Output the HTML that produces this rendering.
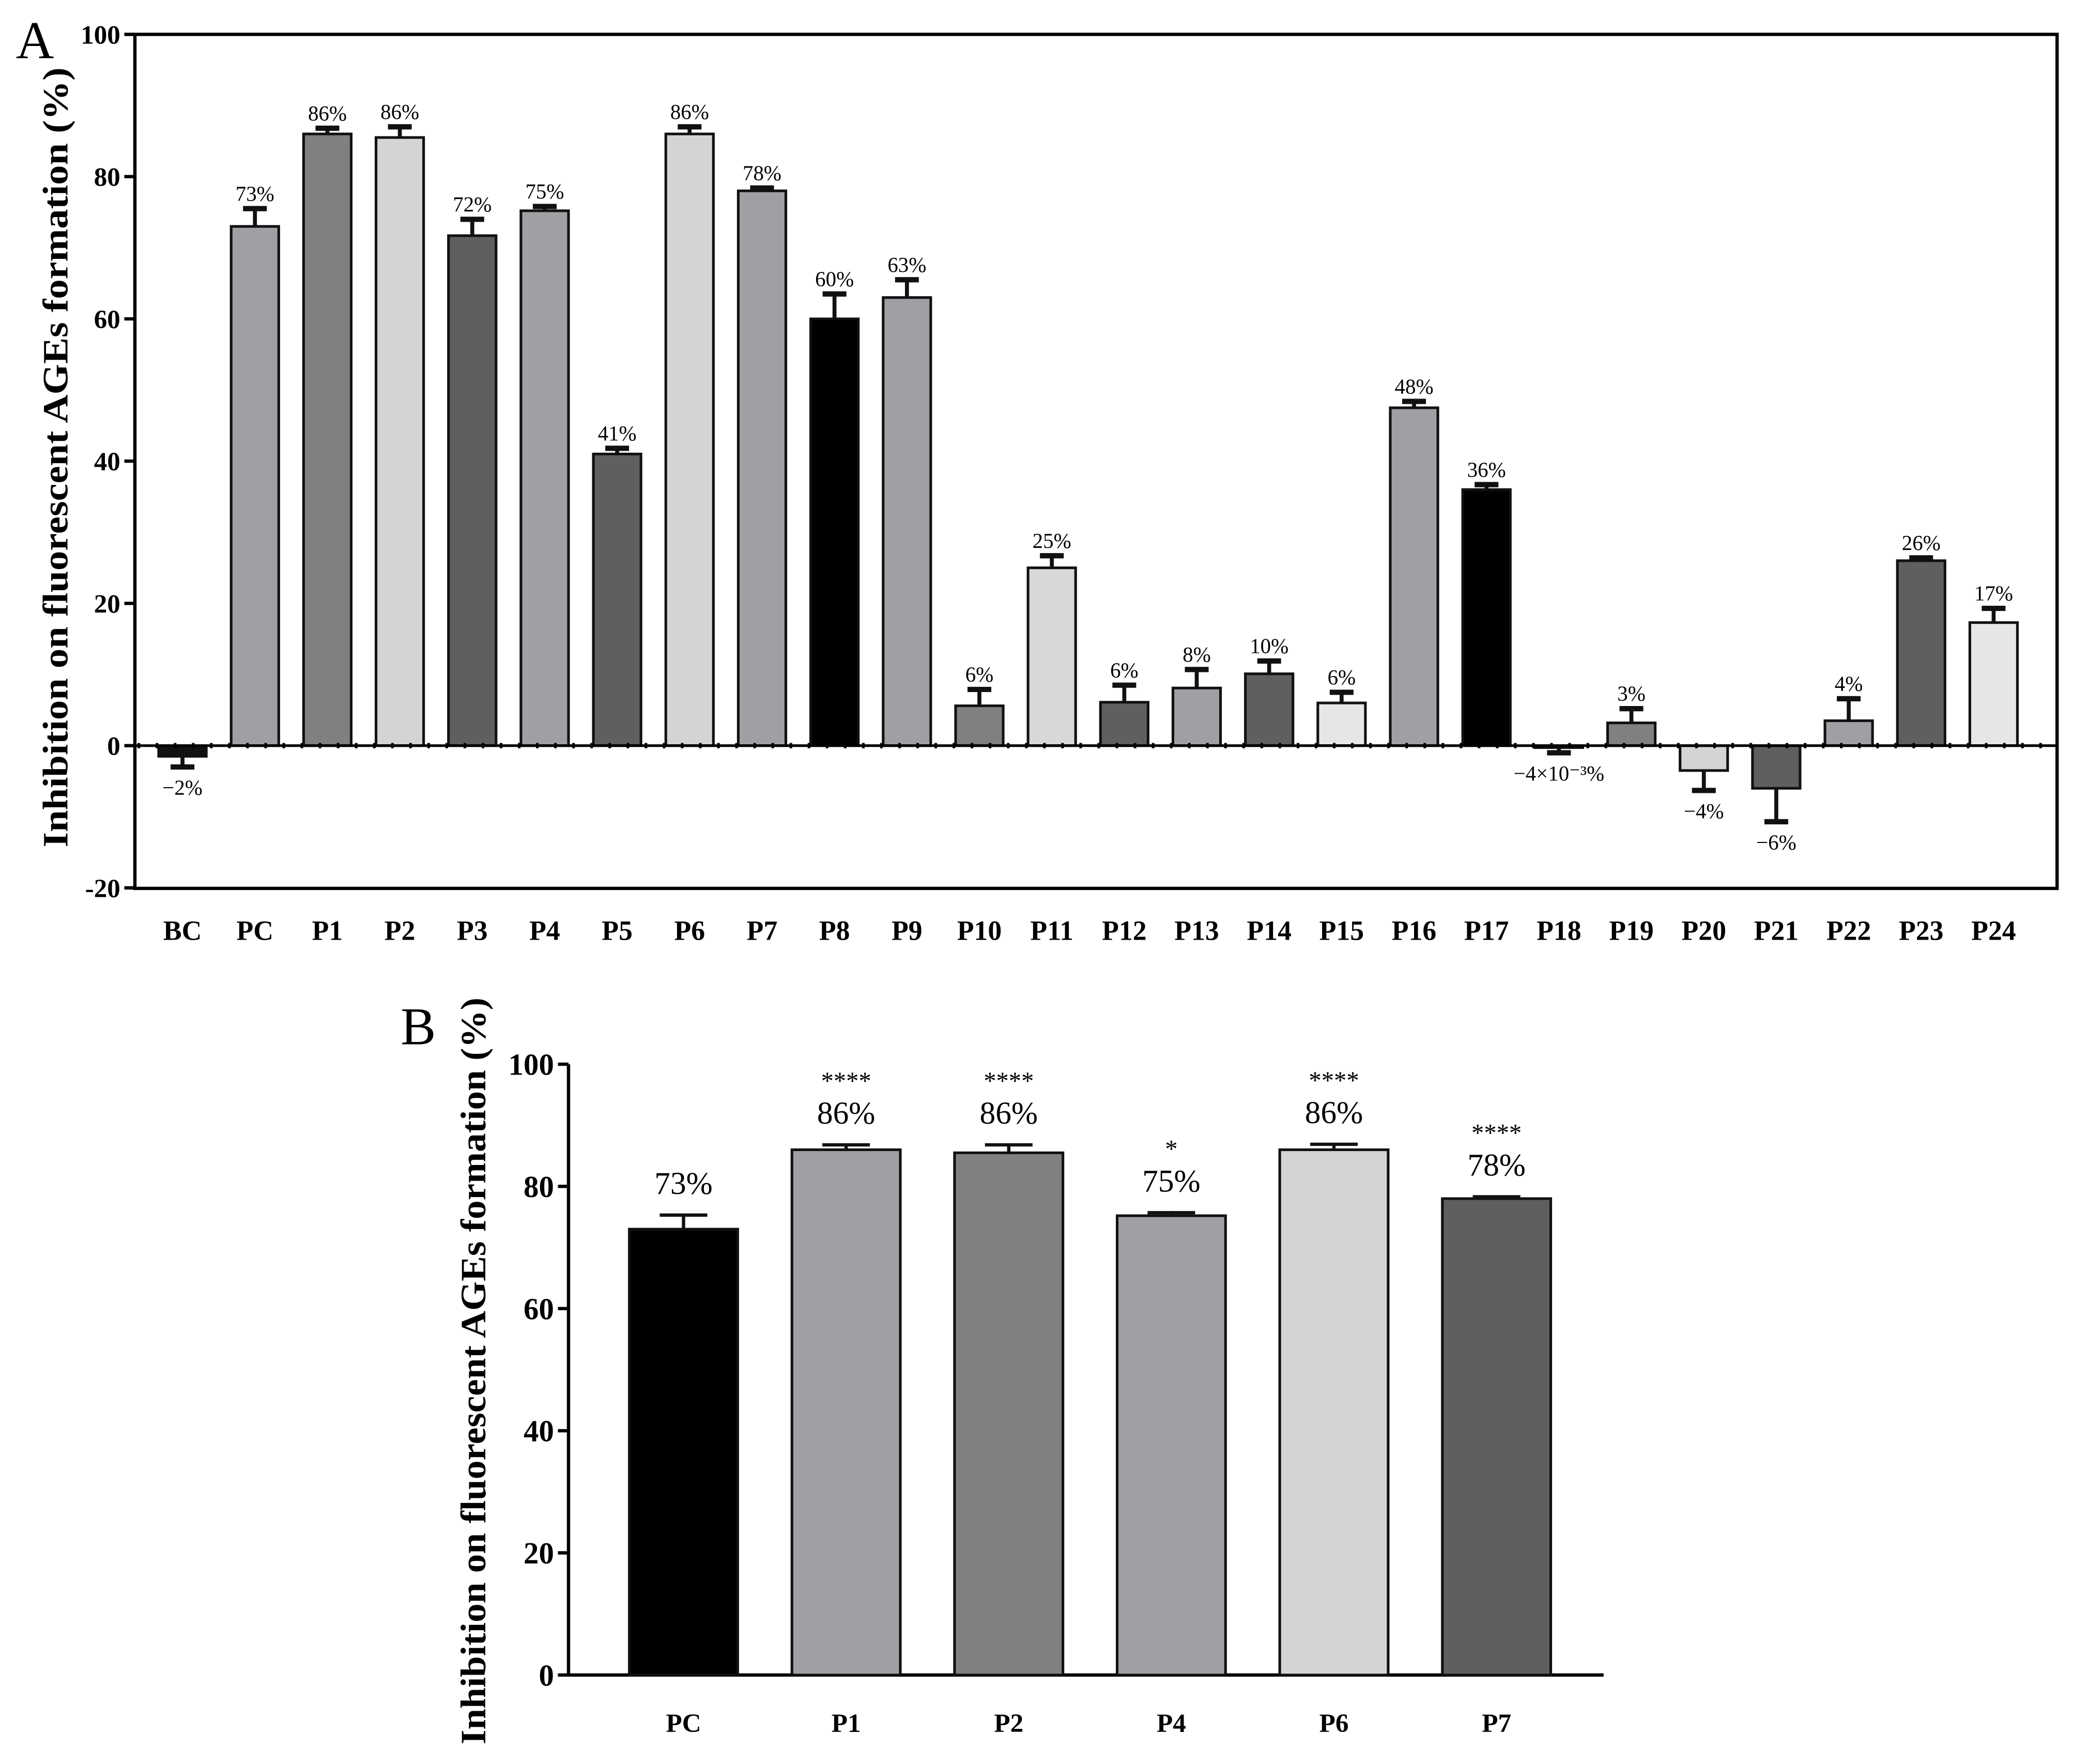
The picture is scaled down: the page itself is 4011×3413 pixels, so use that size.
<!DOCTYPE html>
<html><head><meta charset="utf-8"><style>
html,body{margin:0;padding:0;background:#fff;}
svg{display:block;}
text{font-family:"Liberation Serif",serif;}
</style></head><body>
<svg id="fig" width="4011" height="3413" viewBox="0 0 1568 1334.3" xmlns="http://www.w3.org/2000/svg">
<g id="panelA"></g>
<g id="panelB"></g>
</svg>
<script>
const catsA=["BC","PC","P1","P2","P3","P4","P5","P6","P7","P8","P9","P10","P11","P12","P13","P14","P15","P16","P17","P18","P19","P20","P21","P22","P23","P24"];
const valsA=[-1.5,73,86,85.5,71.7,75.2,41,86,78,60,63,5.6,25,6.1,8.1,10.1,6,47.5,36,-0.004,3.2,-3.5,-6,3.5,26,17.3];
const errsA=[1.5,2.5,0.8,1.5,2.3,0.6,0.8,1,0.4,3.5,2.5,2.3,1.7,2.4,2.6,1.8,1.5,0.9,0.7,1,2,2.8,4.7,3.1,0.4,2];
const labelsA=["−2%","73%","86%","86%","72%","75%","41%","86%","78%","60%","63%","6%","25%","6%","8%","10%","6%","48%","36%","−4×10⁻³%","3%","−4%","−6%","4%","26%","17%"];
const colorsA=["#111","#a0a0a4","#808080","#d4d4d4","#5f5f5f","#a0a0a4","#5f5f5f","#d4d4d4","#a0a0a4","#000","#a0a0a4","#808080","#d8d8d8","#5f5f5f","#a0a0a4","#5f5f5f","#e6e6e6","#a0a0a4","#000","#808080","#808080","#d4d4d4","#5f5f5f","#a0a0a4","#5f5f5f","#e6e6e6"];
const ticksA=[-20,0,20,40,60,80,100];
const catsB=["PC","P1","P2","P4","P6","P7"];
const valsB=[73,86,85.5,75.2,86,78];
const errsB=[2.3,0.8,1.3,0.5,0.9,0.3];
const labelsB=["73%","86%","86%","75%","86%","78%"];
const starsB=["","****","****","*","****","****"];
const colorsB=["#000","#a0a0a4","#808080","#a0a0a4","#d4d4d4","#5f5f5f"];
const ticksB=[0,20,40,60,80,100];

const NS="http://www.w3.org/2000/svg";
function mk(parent,tag,attrs,txt){const e=document.createElementNS(NS,tag);for(const k in attrs)e.setAttribute(k,attrs[k]);if(txt!==undefined)e.textContent=txt;parent.appendChild(e);return e;}

// Panel A
const A=document.getElementById('panelA');
const yA=v=>564-(v)*5.38;
const xA=i=>138+i*54.8;
let t=mk(A,'text',{x:12,y:44,'font-size':40});t.textContent='A';


let fr=mk(A,'rect',{x:102,y:26,width:1454,height:646,fill:'none',stroke:'#000','stroke-width':2.5});


ticksA.forEach(v=>{
  let tk=mk(A,'line',{x1:94,x2:102,y1:yA(v),y2:yA(v),stroke:'#000','stroke-width':2.5});
  
  
  let tl=mk(A,'text',{x:91,y:yA(v)+7,'text-anchor':'end','font-size':20,'font-weight':'bold'},String(v));
  
  
});
let ytA=mk(A,'text',{transform:'translate(51,346) rotate(-90)','text-anchor':'middle','font-size':27,'font-weight':'bold',textLength:590,lengthAdjust:'spacingAndGlyphs'},'Inhibition on fluorescent AGEs formation (%)');


catsA.forEach((c,i)=>{
  const x=xA(i),v=valsA[i],e=errsA[i],w=36;
  const top=Math.min(yA(v),yA(0)),h=Math.max(Math.abs(yA(v)-yA(0)),1.5);
  let b=mk(A,'rect',{x:x-w/2,y:top,width:w,height:h,fill:colorsA[i],stroke:'#111','stroke-width':2});
  
  
  const ev=v>=0?v+e:v-e;
  let el=mk(A,'line',{x1:x,x2:x,y1:yA(v),y2:yA(ev),stroke:'#111','stroke-width':3});
  
  
  mk(A,'line',{x1:x-9,x2:x+9,y1:yA(ev),y2:yA(ev),stroke:'#111','stroke-width':4});
  const ly=v>=0?yA(ev)-6:yA(ev)+21;
  let lb=mk(A,'text',{x:x,y:ly,'text-anchor':'middle','font-size':16},labelsA[i]);
  
  
  let xl=mk(A,'text',{x:x,y:711,'text-anchor':'middle','font-size':21,'font-weight':'bold'},c);
  
  
});
let zl=mk(A,'line',{x1:102,x2:1556,y1:564,y2:564,stroke:'#000','stroke-width':2});


mk(A,'line',{x1:104,x2:1556,y1:564,y2:564,stroke:'#000','stroke-width':4,'stroke-dasharray':'2 11.7'});

// Panel B
const B=document.getElementById('panelB');
const yB=v=>1267-v*4.62;
const xB=i=>517+i*123;
t=mk(B,'text',{x:303,y:790,'font-size':40},'B');


let ax=mk(B,'path',{d:'M430,805 L430,1267 L1213,1267',fill:'none',stroke:'#000','stroke-width':2.5});


ticksB.forEach(v=>{
  mk(B,'line',{x1:422,x2:430,y1:yB(v),y2:yB(v),stroke:'#000','stroke-width':2.5});
  let tl=mk(B,'text',{x:419,y:yB(v)+8,'text-anchor':'end','font-size':23,'font-weight':'bold'},String(v));
  
  
});
let ytB=mk(B,'text',{transform:'translate(367,1037) rotate(-90)','text-anchor':'middle','font-size':27,'font-weight':'bold',textLength:565,lengthAdjust:'spacingAndGlyphs'},'Inhibition on fluorescent AGEs formation (%)');


catsB.forEach((c,i)=>{
  const x=xB(i),v=valsB[i],e=errsB[i],w=82;
  let b=mk(B,'rect',{x:x-w/2,y:yB(v),width:w,height:yB(0)-yB(v),fill:colorsB[i],stroke:'#111','stroke-width':2});
  
  
  let el=mk(B,'line',{x1:x,x2:x,y1:yB(v),y2:yB(v+e),stroke:'#111','stroke-width':2.5});
  
  
  mk(B,'line',{x1:x-18,x2:x+18,y1:yB(v+e),y2:yB(v+e),stroke:'#111','stroke-width':2.5});
  let lb=mk(B,'text',{x:x,y:yB(v+e)-16,'text-anchor':'middle','font-size':24},labelsB[i]);
  
  
  if(starsB[i]){
    let s=mk(B,'text',{x:x,y:yB(v+e)-42,'text-anchor':'middle','font-size':19},starsB[i]);
    
    
  }
  let xl=mk(B,'text',{x:x,y:1310,'text-anchor':'middle','font-size':20,'font-weight':'bold'},c);
  
  
});
</script>
</body></html>
